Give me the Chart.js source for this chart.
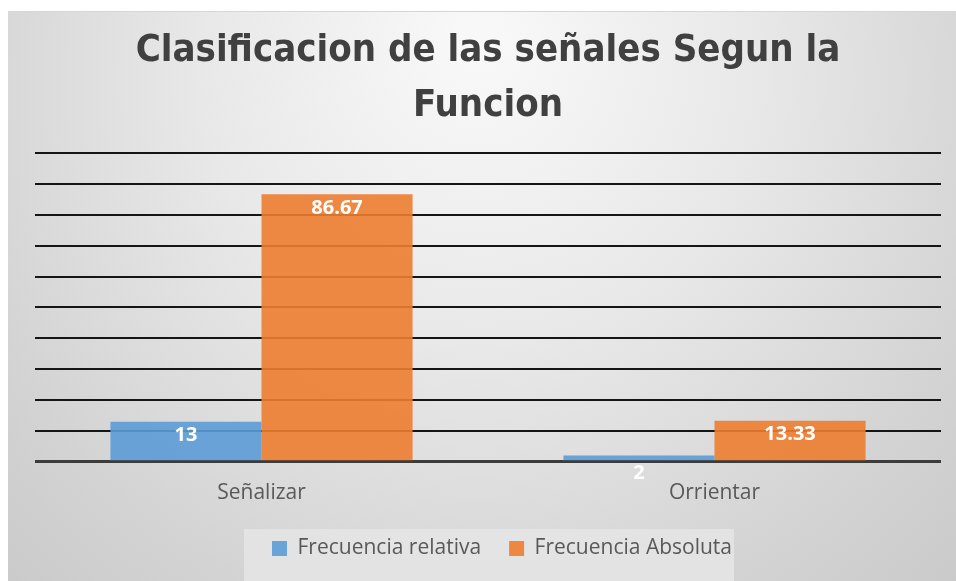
<!DOCTYPE html>
<html>
<head>
<meta charset="utf-8">
<script src="https://cdn.jsdelivr.net/npm/chart.js@4.4.1/dist/chart.umd.min.js"></script>
<style>
html,body{margin:0;padding:0;background:#fff;}
#wrap{width:956px;height:581px;position:relative;}
</style>
</head>
<body>
<div id="wrap"><canvas id="c" width="956" height="581"></canvas></div>
<script>
const titleLines = ["Clasificacion de las señales Segun la", "Funcion"];
const categories = ["Señalizar", "Orrientar"];
const seriesNames = ["Frecuencia relativa", "Frecuencia Absoluta"];
const frecuenciaRelativa = [13, 2];
const frecuenciaAbsoluta = [86.67, 13.33];
const valueLabels = [["13", "2"], ["86.67", "13.33"]];
const yMin = 0, yMax = 100, yStep = 10;

const legendShift = {
  id: 'legendShift',
  afterLayout(chart) {
    const lg = chart.legend;
    if (!lg) return;
    lg.left += 14; lg.right += 14;
    (lg.legendHitBoxes || []).forEach(h => { h.left += 14; });
  }
};

const bgPlugin = {
  id: 'bg',
  beforeDraw(chart) {
    const ctx = chart.ctx, w = chart.width, h = chart.height;
    ctx.save();
    ctx.fillStyle = '#ffffff';
    ctx.fillRect(0, 0, w, h);
    const g = ctx.createRadialGradient(w * 0.5, 40, 20, w * 0.5, 120, 760);
    g.addColorStop(0, '#f8f8f8');
    g.addColorStop(0.35, '#e8e8e8');
    g.addColorStop(0.7, '#d3d3d3');
    g.addColorStop(1, '#c4c4c4');
    ctx.fillStyle = g;
    ctx.fillRect(8, 11, w - 8, h - 11);
    ctx.strokeStyle = '#d6d6d6';
    ctx.lineWidth = 1;
    ctx.beginPath();
    ctx.moveTo(8, 11.5); ctx.lineTo(w, 11.5);
    ctx.stroke();
    const lg = chart.legend;
    if (lg && lg.legendHitBoxes && lg.legendHitBoxes.length) {
      const hb = lg.legendHitBoxes;
      const l = hb[0].left - 28, r = hb[hb.length - 1].left + hb[hb.length - 1].width + 2;
      const t = hb[0].top - 9;
      ctx.fillStyle = 'rgba(228,228,228,0.9)';
      ctx.fillRect(l, t, r - l, h - t);
    }
    ctx.restore();
  }
};

const labelPlugin = {
  id: 'vlabels',
  afterDatasetsDraw(chart) {
    const ctx = chart.ctx;
    ctx.save();
    ctx.fillStyle = '#ffffff';
    ctx.font = 'bold 20px "Open Sans", sans-serif';
    ctx.textAlign = 'center';
    ctx.textBaseline = 'middle';
    chart.data.datasets.forEach((ds, di) => {
      const meta = chart.getDatasetMeta(di);
      meta.data.forEach((bar, i) => {
        const small = Math.abs(bar.base - bar.y) < 20;
        ctx.fillText(valueLabels[di][i], bar.x, small ? bar.y + 18 : bar.y + 14);
      });
    });
    ctx.restore();
  }
};

new Chart(document.getElementById('c'), {
  type: 'bar',
  data: {
    labels: categories,
    datasets: [
      { label: seriesNames[0], data: frecuenciaRelativa, backgroundColor: 'rgba(91,155,213,0.9)', borderWidth: 0 },
      { label: seriesNames[1], data: frecuenciaAbsoluta, backgroundColor: 'rgba(237,125,49,0.9)', borderWidth: 0 }
    ]
  },
  options: {
    responsive: false,
    animation: false,
    devicePixelRatio: 1,
    layout: { padding: { top: 24, left: 35, right: 15, bottom: 12 } },
    datasets: { bar: { barPercentage: 1.0, categoryPercentage: 0.667 } },
    plugins: {
      tooltip: { enabled: false },
      title: {
        display: true,
        text: titleLines,
        color: '#404040',
        font: { family: "'Liberation Sans Narrow', 'DejaVu Sans Condensed', sans-serif", size: 38, weight: 'bold', lineHeight: 1.447 },
        padding: { top: 0, bottom: 19 }
      },
      legend: {
        display: true,
        position: 'bottom',
        labels: {
          boxWidth: 15, boxHeight: 15,
          color: '#595959',
          font: { family: "'Open Sans', sans-serif", size: 21 },
          padding: 28
        }
      }
    },
    scales: {
      x: {
        grid: { display: false },
        border: { display: false },
        ticks: { color: '#595959', font: { family: "'Open Sans', sans-serif", size: 21 }, padding: 11 },
        afterFit(scale) { scale.height -= 7; }
      },
      y: {
        min: yMin, max: yMax,
        ticks: { display: false, stepSize: yStep },
        border: { display: false },
        grid: {
          drawTicks: false,
          color: (c) => c.tick && c.tick.value === 0 ? '#3c3c3c' : '#151515',
          lineWidth: (c) => c.tick && c.tick.value === 0 ? 3 : 2
        }
      }
    }
  },
  plugins: [legendShift, bgPlugin, labelPlugin]
});
</script>
</body>
</html>
